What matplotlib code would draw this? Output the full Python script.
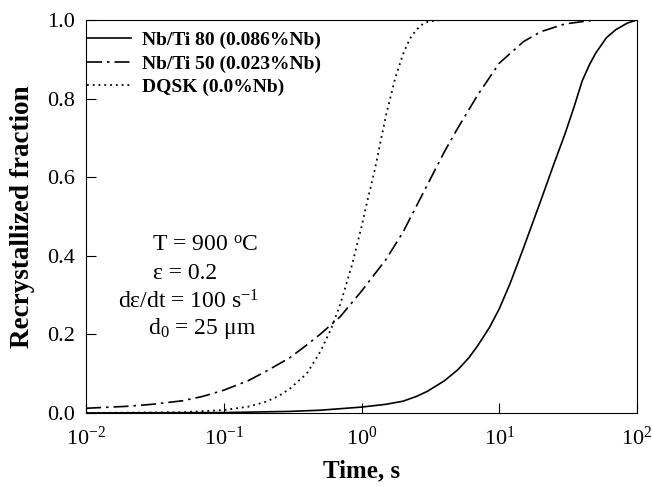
import matplotlib
matplotlib.use('Agg')
import matplotlib.pyplot as plt

plt.rcParams['font.family'] = ['Liberation Serif', 'DejaVu Serif']
plt.rcParams['mathtext.fontset'] = 'custom'
plt.rcParams['mathtext.rm'] = 'Liberation Serif'
plt.rcParams['mathtext.it'] = 'Liberation Serif:italic'

# values
t_nb80 = [0.01, 0.1, 0.3, 0.5, 1.0, 1.5, 2.0, 2.5, 3.0, 4.0, 5.0, 6.0, 7.0, 8.5, 10, 12, 15, 20, 25,
          30, 35, 40, 45, 50, 60, 70, 85, 100]
f_nb80 = [0.0, 0.001, 0.004, 0.007, 0.015, 0.022, 0.03, 0.042, 0.055, 0.082, 0.11, 0.14, 0.172, 0.218,
          0.265, 0.33, 0.42, 0.54, 0.635, 0.71, 0.78, 0.845, 0.885, 0.915, 0.955, 0.975, 0.992, 1.0]

t_nb50 = [0.01, 0.02, 0.03, 0.05, 0.07, 0.1, 0.15, 0.2, 0.3, 0.4, 0.5, 0.7, 1.0, 1.5, 2.0, 3.0, 4.0,
          5.0, 7.0, 10, 15, 20, 30, 50, 100]
f_nb50 = [0.012, 0.017, 0.022, 0.031, 0.042, 0.058, 0.082, 0.105, 0.140, 0.173, 0.20, 0.245, 0.31,
          0.39, 0.46, 0.58, 0.665, 0.725, 0.81, 0.89, 0.945, 0.97, 0.99, 1.0, 1.0]

t_dqsk = [0.01, 0.05, 0.1, 0.15, 0.2, 0.25, 0.3, 0.4, 0.5, 0.6, 0.7, 0.85, 1.0, 1.1, 1.25, 1.5, 1.75,
          2.0, 2.25, 2.5, 2.75, 3.0, 3.5, 4.0, 100]
f_dqsk = [0.0, 0.002, 0.0075, 0.016, 0.028, 0.043, 0.061, 0.10, 0.155, 0.213, 0.276, 0.375, 0.474,
          0.538, 0.62, 0.755, 0.85, 0.913, 0.953, 0.975, 0.988, 0.995, 0.999, 1.0, 1.0]

labels = ['Nb/Ti 80 (0.086%Nb)', 'Nb/Ti 50 (0.023%Nb)', 'DQSK (0.0%Nb)']

fig = plt.figure(figsize=(6.52, 4.87), dpi=100)
ax = fig.add_axes([0.132, 0.152, 0.845, 0.807])

ax.plot(t_nb80, f_nb80, color='black', lw=1.2, label=labels[0])
ax.plot(t_nb50, f_nb50, color='black', lw=1.2, dashes=(9, 3, 1.5, 3), label=labels[1])
ax.plot(t_dqsk, f_dqsk, color='black', lw=1.3, linestyle=(0, (1, 2.2)), label=labels[2])

ax.set_xscale('log')
ax.set_xlim(1e-2, 1e2)
ax.set_ylim(0, 1.0)
ax.set_yticks([0.0, 0.2, 0.4, 0.6, 0.8, 1.0])
ax.set_yticklabels(['0.0', '0.2', '0.4', '0.6', '0.8', '1.0'])
ax.minorticks_off()
ax.set_xticks([1e-2, 1e-1, 1e0, 1e1, 1e2])
ax.tick_params(direction='in', length=7, width=0.8, labelsize=16)
ax.tick_params(axis='x', pad=10)
ax.tick_params(axis='y', pad=8)

ax.set_xlabel('Time, s', fontsize=18, fontweight='bold', labelpad=7)
ax.set_ylabel('Recrystallized fraction', fontsize=19.5, fontweight='bold', labelpad=9)

leg = ax.legend(loc='upper left', bbox_to_anchor=(-0.02, 1.0), frameon=False,
                prop={'size': 14, 'weight': 'bold'}, handlelength=2.3, handletextpad=0.55,
                labelspacing=0.3, borderaxespad=0.2)

ax.text(0.120, 0.412, 'T = 900 $^{\\mathrm{o}}$C', transform=ax.transAxes, fontsize=17)
ax.text(0.122, 0.341, '\u03b5 = 0.2', transform=ax.transAxes, fontsize=17)
ax.text(0.058, 0.267, 'd\u03b5/dt = 100 s$^{\\mathrm{-1}}$', transform=ax.transAxes, fontsize=17)
ax.text(0.112, 0.201, 'd$_{\\mathrm{0}}$ = 25 \u03bcm', transform=ax.transAxes, fontsize=17)

fig.savefig('out.png', dpi=100)
